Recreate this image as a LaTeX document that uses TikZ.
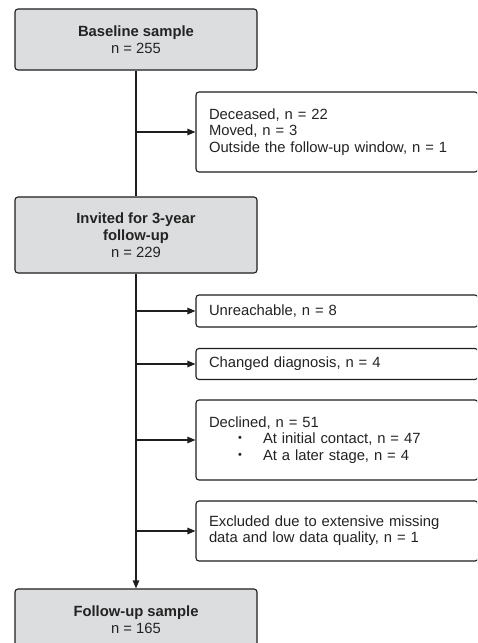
\documentclass[tikz,border=0pt]{standalone}
\usepackage{fontspec}
\setmainfont{Liberation Sans}
\usetikzlibrary{arrows.meta}
\definecolor{boxgray}{RGB}{220,221,223}
\definecolor{linecol}{RGB}{30,30,30}
\definecolor{textcol}{RGB}{35,35,35}
\newcommand{\smallbul}{\makebox[25pt][l]{\raisebox{2pt}{\fontsize{11}{11}\selectfont\textbullet}}}
\tikzset{
  mainbox/.style={draw=linecol, line width=1.1pt, fill=boxgray, rounded corners=3pt,
    minimum width=242pt, align=center, inner sep=0pt, font=\fontsize{14.8}{17}\selectfont, text=textcol},
  sidebox/.style={draw=linecol, line width=1.1pt, fill=white, rounded corners=3pt,
    minimum width=282pt, text width=256pt, align=left, inner sep=0pt, font=\fontsize{14.8}{16.3}\selectfont, text=textcol},
  conn/.style={draw=linecol, line width=1.1pt},
  arr/.style={conn, -{Triangle[length=8pt,width=6.5pt]}},
}
\begin{document}
\begin{tikzpicture}[x=1pt,y=-1pt]
\useasboundingbox (0,0) rectangle (477,643);
\clip (0,0) rectangle (477,643);
\fill[white] (0,0) rectangle (477,643);
\node[mainbox, minimum height=61pt] (b1) at (136,39.5) {\textbf{Baseline sample}\\n = 255};
\node[mainbox, minimum height=76pt] (b2) at (136,235) {\textbf{Invited for 3-year}\\\textbf{follow-up}\\n = 229};
\node[mainbox, minimum height=61pt] (fu) at (136,619.5) {\textbf{Follow-up sample}\\n = 165};
\node[sidebox, minimum height=80pt] (dec) at (337,132) {Deceased, n = 22\\Moved, n = 3\\Outside the follow-up window, n = 1};
\node[sidebox, minimum height=32pt] (unr) at (337,311) {Unreachable, n = 8};
\node[sidebox, minimum height=31pt] (chg) at (337,364) {Changed diagnosis, n = 4};
\node[sidebox, minimum height=80pt] (decl) at (337,440) {Declined, n = 51\\
  \hspace*{29pt}\smallbul At initial contact, n = 47\\
  \hspace*{29pt}\smallbul At a later stage, n = 4};
\node[sidebox, minimum height=60pt] (exc) at (337,531) {Excluded due to extensive missing\\data and low data quality, n = 1};
\draw[conn] (b1.south) -- (b2.north);
\draw[arr] (b2.south) -- (fu.north);
\draw[arr] (b1 |- dec.west) -- (dec.west);
\draw[arr] (b2 |- unr.west) -- (unr.west);
\draw[arr] (b2 |- chg.west) -- (chg.west);
\draw[arr] (b2 |- decl.west) -- (decl.west);
\draw[arr] (b2 |- exc.west) -- (exc.west);
\end{tikzpicture}
\end{document}
